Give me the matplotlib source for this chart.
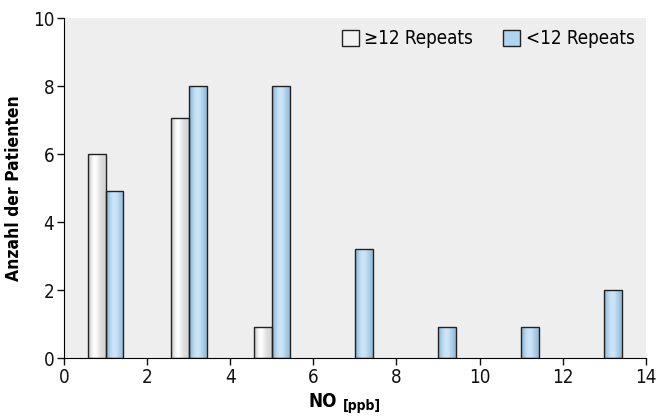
import numpy as np
import matplotlib
matplotlib.use("Agg")
from matplotlib import pyplot as plt
from matplotlib.patches import Patch

plt.rcParams['font.family'] = ['DejaVu Sans']
plt.rcParams['font.stretch'] = 'condensed'

# NO [ppb] bins and patient counts
no_ppb = [1, 3, 5, 7, 9, 11, 13]
repeats_ge12 = [6.0, 7.05, 0.92, 0, 0, 0, 0]
repeats_lt12 = [4.9, 8.0, 8.0, 3.2, 0.92, 0.92, 2.0]
xticks = [0, 2, 4, 6, 8, 10, 12, 14]
yticks = [0, 2, 4, 6, 8, 10]

width = 0.43

# horizontal shading across each bar
grey_profile = np.array([0.80, 0.93, 1.0, 0.97, 0.90, 0.86, 0.84])
blue_edge = np.array([0x8f, 0xb8, 0xd8]) / 255
blue_mid = np.array([0xcc, 0xe6, 0xf8]) / 255
blue_profile = np.array([0.0, 0.55, 0.9, 1.0, 0.8, 0.45, 0.15])


def grey_img():
    return np.dstack([grey_profile] * 3)


def blue_img():
    t = blue_profile[:, None]
    cols = blue_edge + (blue_mid - blue_edge) * t
    return cols[None, :, :]


fig = plt.figure(figsize=(6.59, 4.2), dpi=100)
ax = fig.add_axes([0.0971, 0.1476, 0.8829, 0.8094])
ax.set_facecolor('#eeeeee')

x = np.array(no_ppb, dtype=float)
b1 = ax.bar(x - width / 2, repeats_ge12, width, facecolor='none',
            edgecolor='#222222', linewidth=1.0, zorder=3)
b2 = ax.bar(x + width / 2, repeats_lt12, width, facecolor='none',
            edgecolor='#222222', linewidth=1.0, zorder=3)

for bars, img in ((b1, grey_img()), (b2, blue_img())):
    for r in bars:
        if r.get_height() <= 0:
            r.set_visible(False)
            continue
        x0, y0 = r.get_x(), r.get_y()
        im = ax.imshow(img, extent=(x0, x0 + r.get_width(), y0, y0 + r.get_height()),
                       aspect='auto', interpolation='bilinear', zorder=2)
        im.set_clip_path(r)

ax.set_xlim(0, 14)
ax.set_ylim(0, 10)
ax.set_xticks(xticks)
ax.set_yticks(yticks)
ax.spines['top'].set_visible(False)
ax.spines['right'].set_visible(False)
ax.tick_params(direction='out', length=5, width=1, labelsize=13.5, colors='#111111', pad=2)
ax.set_ylabel('Anzahl der Patienten', fontsize=12.5, fontweight='bold', labelpad=7)

ax.set_xlabel('NO', fontsize=13.5, fontweight='bold')
ax.xaxis.set_label_coords(0.445, -0.100)
ax.annotate('[ppb]', xy=(1, 0), xycoords=ax.xaxis.label, xytext=(4, 9),
            textcoords='offset points', fontsize=10, fontweight='bold',
            ha='left', va='top', annotation_clip=False)

handles = [Patch(facecolor='#f2f2f2', edgecolor='#222222', label='\u226512 Repeats'),
           Patch(facecolor='#b0d4ef', edgecolor='#222222', label='<12 Repeats')]
ax.legend(handles=handles, loc='upper right', frameon=False, fontsize=13.5,
          ncol=2, handlelength=0.9, handleheight=0.9, handletextpad=0.3,
          columnspacing=1.6, borderaxespad=0.2)

fig.savefig('out.png', dpi=100)
